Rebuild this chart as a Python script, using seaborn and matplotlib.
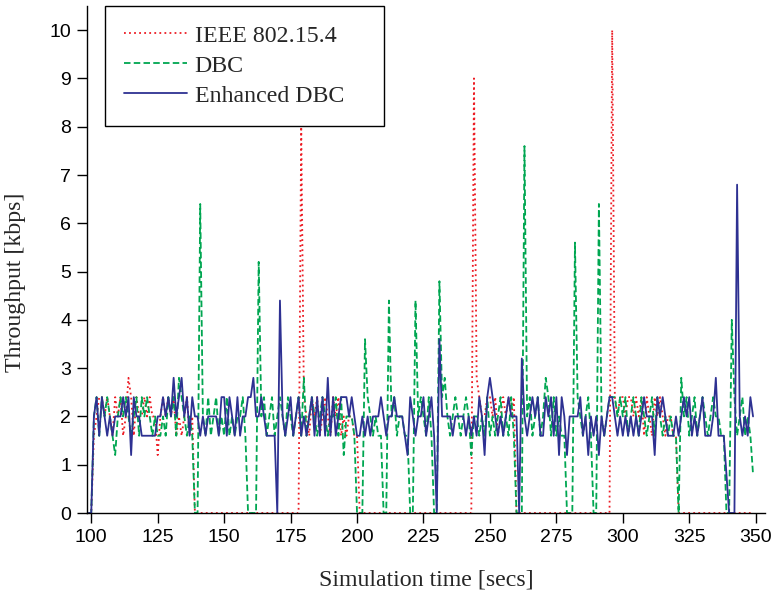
import matplotlib
matplotlib.use("Agg")
import matplotlib.pyplot as plt
import seaborn as sns

# ---------------- data ----------------
time_s = list(range(99, 350))

ieee = [0.0,
    0.0, 1.6, 2.0, 2.4, 2.4, 2.0, 2.4, 2.0, 1.6, 2.4,
    2.0, 2.4, 1.6, 2.0, 2.8, 2.4, 1.6, 2.4, 2.0, 2.0,
    2.4, 2.0, 2.4, 2.0, 2.0, 1.2, 2.0, 2.4, 2.0, 2.4,
    2.0, 2.4, 1.6, 2.0, 1.6, 2.0, 2.4, 1.6, 2.0, 0.0,
    0.0, 0.0, 0.0, 0.0, 0.0, 0.0, 0.0, 0.0, 0.0, 0.0,
    0.0, 0.0, 0.0, 0.0, 0.0, 0.0, 0.0, 0.0, 0.0, 0.0,
    0.0, 0.0, 0.0, 0.0, 0.0, 0.0, 0.0, 0.0, 0.0, 0.0,
    0.0, 0.0, 0.0, 0.0, 0.0, 0.0, 0.0, 0.0, 0.0, 8.0,
    2.4, 2.0, 1.6, 2.4, 2.0, 2.4, 1.6, 2.0, 2.4, 2.0,
    1.6, 2.4, 2.0, 2.4, 1.6, 2.0, 1.6, 2.0, 2.0, 1.6,
    1.6, 0.0, 0.0, 0.0, 0.0, 0.0, 0.0, 0.0, 0.0, 0.0,
    0.0, 0.0, 0.0, 0.0, 0.0, 0.0, 0.0, 0.0, 0.0, 0.0,
    0.0, 0.0, 0.0, 0.0, 0.0, 0.0, 0.0, 0.0, 0.0, 0.0,
    0.0, 0.0, 0.0, 0.0, 0.0, 0.0, 0.0, 0.0, 0.0, 0.0,
    0.0, 0.0, 0.0, 0.0, 9.0, 2.8, 2.4, 2.0, 2.0, 2.4,
    2.4, 2.0, 2.4, 1.6, 2.0, 2.4, 2.0, 2.4, 2.0, 2.4,
    0.0, 0.0, 0.0, 0.0, 0.0, 0.0, 0.0, 0.0, 0.0, 0.0,
    0.0, 0.0, 0.0, 0.0, 0.0, 0.0, 0.0, 0.0, 0.0, 0.0,
    0.0, 0.0, 0.0, 0.0, 0.0, 0.0, 0.0, 0.0, 0.0, 0.0,
    0.0, 0.0, 0.0, 0.0, 0.0, 0.0, 10.0, 2.4, 2.0, 2.4,
    2.4, 2.0, 2.4, 2.4, 2.0, 2.4, 2.0, 2.4, 1.6, 2.4,
    2.0, 1.6, 2.4, 2.0, 2.4, 2.0, 1.6, 2.0, 2.0, 1.6,
    1.6, 0.0, 0.0, 0.0, 0.0, 0.0, 0.0, 0.0, 0.0, 0.0,
    0.0, 0.0, 0.0, 0.0, 0.0, 0.0, 0.0, 0.0, 0.0, 0.0,
    0.0, 0.0, 0.0, 0.0, 0.0, 0.0, 0.0, 0.0, 0.0, 0.0,
]

dbc = [0.0,
    0.0, 2.0, 2.4, 1.6, 2.4, 2.0, 2.4, 2.0, 1.6, 1.2,
    2.0, 2.4, 2.0, 2.4, 2.0, 1.6, 2.0, 2.4, 1.6, 2.4,
    2.0, 2.4, 2.0, 1.6, 2.0, 1.6, 1.6, 2.0, 1.6, 2.4,
    2.0, 2.4, 1.6, 2.8, 2.4, 2.0, 1.6, 2.0, 1.6, 0.0,
    0.0, 6.4, 2.0, 1.6, 2.4, 1.6, 2.0, 2.4, 1.6, 2.0,
    1.6, 2.4, 1.6, 2.0, 1.6, 2.0, 2.0, 2.4, 1.6, 0.0,
    0.0, 0.0, 0.0, 5.2, 2.0, 2.4, 1.6, 2.0, 2.4, 1.6,
    2.0, 2.4, 2.0, 1.6, 2.4, 2.0, 1.6, 2.0, 2.4, 1.6,
    2.8, 1.6, 2.0, 2.4, 2.0, 1.6, 2.0, 2.4, 2.0, 1.6,
    2.0, 2.0, 2.4, 1.6, 2.4, 1.2, 2.0, 2.0, 2.0, 1.6,
    0.0, 0.0, 0.0, 3.6, 2.4, 2.0, 1.6, 2.0, 1.6, 1.6,
    0.0, 0.0, 4.4, 2.0, 2.4, 1.6, 2.0, 2.0, 1.6, 1.6,
    0.0, 0.0, 4.4, 2.0, 2.4, 2.0, 1.6, 2.4, 1.6, 0.0,
    0.0, 4.8, 2.4, 2.8, 2.0, 1.6, 2.0, 2.4, 2.0, 1.6,
    2.0, 2.4, 2.0, 1.2, 2.0, 2.0, 1.6, 2.0, 1.6, 2.4,
    1.6, 2.0, 1.6, 2.0, 2.4, 1.6, 2.0, 1.6, 2.4, 1.6,
    0.0, 0.0, 0.0, 7.6, 2.0, 2.4, 1.6, 2.0, 2.4, 1.6,
    2.0, 2.8, 2.4, 1.6, 2.4, 1.6, 2.0, 1.6, 1.6, 0.0,
    0.0, 0.0, 5.6, 2.4, 2.0, 1.6, 2.0, 2.4, 1.6, 0.0,
    0.0, 6.4, 2.0, 1.6, 2.0, 2.4, 2.4, 2.4, 2.0, 2.4,
    2.0, 2.4, 1.6, 2.0, 2.4, 2.0, 1.6, 2.4, 2.0, 1.6,
    2.0, 2.4, 1.6, 2.4, 2.0, 1.6, 2.0, 1.6, 2.0, 1.6,
    1.6, 0.0, 2.8, 2.0, 2.4, 1.6, 2.0, 2.4, 1.6, 2.0,
    2.4, 2.0, 1.6, 2.0, 2.4, 2.0, 2.0, 1.6, 1.6, 0.0,
    0.0, 4.0, 2.4, 1.6, 2.0, 2.4, 1.6, 2.0, 1.6, 0.8,
]

enhanced_dbc = [0.0,
    0.0, 2.0, 2.4, 1.6, 2.4, 2.0, 1.6, 2.0, 1.6, 2.0,
    2.0, 2.0, 2.4, 2.0, 2.4, 1.2, 2.4, 2.0, 2.0, 1.6,
    1.6, 1.6, 1.6, 1.6, 1.6, 2.0, 2.0, 2.4, 2.0, 2.4,
    2.0, 2.8, 2.0, 2.4, 2.8, 2.0, 2.4, 1.6, 2.4, 2.0,
    2.0, 1.6, 2.0, 1.6, 2.0, 2.0, 2.0, 2.0, 1.6, 2.4,
    2.4, 1.6, 2.4, 2.0, 1.6, 2.4, 1.6, 2.0, 2.0, 2.4,
    2.4, 2.8, 2.0, 2.0, 2.4, 2.0, 1.6, 1.6, 1.6, 1.6,
    0.0, 4.4, 2.0, 1.6, 2.0, 2.4, 1.6, 2.0, 2.4, 1.6,
    2.0, 1.6, 2.0, 2.4, 1.6, 2.4, 1.6, 2.4, 1.6, 2.8,
    1.6, 2.4, 1.6, 2.0, 2.4, 2.4, 2.4, 2.0, 2.4, 2.0,
    1.6, 1.6, 2.0, 1.6, 2.0, 1.6, 2.0, 2.0, 2.0, 2.4,
    2.0, 1.6, 2.0, 2.0, 2.4, 2.0, 2.0, 2.0, 1.6, 1.2,
    2.4, 2.0, 1.6, 2.0, 2.0, 2.4, 1.6, 2.0, 2.4, 1.6,
    0.0, 3.6, 2.0, 2.0, 2.0, 2.0, 1.6, 2.0, 2.0, 2.0,
    2.0, 1.6, 2.0, 1.6, 2.0, 1.6, 2.4, 2.0, 1.2, 2.4,
    2.8, 2.4, 2.0, 1.6, 2.0, 1.6, 2.0, 2.4, 2.0, 2.0,
    2.0, 0.0, 3.2, 2.0, 1.6, 2.0, 2.4, 2.0, 2.4, 1.6,
    1.6, 2.4, 2.0, 2.4, 1.6, 2.4, 1.2, 2.4, 2.0, 1.2,
    2.0, 2.0, 2.0, 2.0, 2.4, 1.6, 2.0, 1.2, 2.0, 1.6,
    2.0, 1.2, 2.0, 1.6, 2.0, 2.4, 2.4, 2.0, 1.6, 2.0,
    1.6, 2.0, 1.6, 2.0, 1.6, 2.0, 1.6, 2.0, 2.4, 2.0,
    2.0, 2.0, 1.2, 2.4, 2.0, 2.4, 2.0, 1.6, 1.6, 1.6,
    2.0, 1.6, 2.0, 2.4, 2.0, 2.4, 1.6, 2.0, 1.6, 2.0,
    2.4, 1.6, 1.6, 1.6, 2.0, 2.8, 1.6, 1.6, 1.6, 0.8,
    0.0, 0.0, 0.0, 6.8, 2.0, 1.6, 2.0, 1.6, 2.4, 2.0,
]

series_names = ["IEEE 802.15.4", "DBC", "Enhanced DBC"]
x_ticks = [100, 125, 150, 175, 200, 225, 250, 275, 300, 325, 350]
y_ticks = [0, 1, 2, 3, 4, 5, 6, 7, 8, 9, 10]

# ---------------- style ----------------
sns.set_theme(style="ticks")
plt.rcParams['font.family'] = ['Liberation Serif', 'DejaVu Serif']

fig = plt.figure(figsize=(7.71, 5.93), dpi=100)
ax = fig.add_axes([87 / 771, 80 / 593, 678 / 771, 507 / 593])

styles = [
    dict(color="#ed1c24", linestyle=(0, (1.0, 1.8)), linewidth=1.3),
    dict(color="#00a651", linestyle=(0, (3.6, 1.8)), linewidth=1.3),
    dict(color="#2e3192", linestyle="-", linewidth=1.3),
]
for name, vals, st in zip(series_names, [ieee, dbc, enhanced_dbc], styles):
    sns.lineplot(x=time_s, y=vals, ax=ax, label=name, errorbar=None,
                 clip_on=False, **st)

ax.set_xlim(98.4, 353.5)
ax.set_ylim(0, 10.5)
ax.set_xticks(x_ticks)
ax.set_yticks(y_ticks)
sns.despine(ax=ax)
for sp in ("left", "bottom"):
    ax.spines[sp].set_linewidth(1.0)
    ax.spines[sp].set_color("black")
ax.tick_params(direction="out", length=7.5, width=1.0, colors="black",
               labelsize=14, pad=4)
for lab in ax.get_xticklabels() + ax.get_yticklabels():
    lab.set_fontfamily("Liberation Sans")

ax.set_xlabel("Simulation time [secs]", fontsize=17.2, labelpad=17,
              family="Liberation Serif")
ax.set_ylabel("Throughput [kbps]", fontsize=17.2,
              family="Liberation Serif")
ax.yaxis.set_label_coords(-0.09, 0.455)

leg = ax.legend(loc="upper left", bbox_to_anchor=(18 / 678, 0.0, 279 / 678, 1.0),
                mode="expand", borderaxespad=0, frameon=True, fancybox=False,
                edgecolor="black", framealpha=1,
                prop={"family": "Liberation Serif", "size": 17.2},
                handlelength=2.65, handletextpad=0.3, borderpad=0.8,
                labelspacing=0.34)
leg.get_frame().set_linewidth(1.0)

fig.savefig("out.png", dpi=100)
